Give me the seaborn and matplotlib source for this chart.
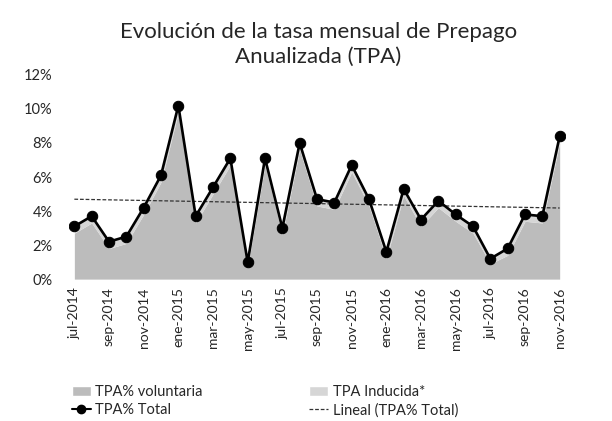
import matplotlib
matplotlib.use("Agg")
import matplotlib.pyplot as plt
import numpy as np
import pandas as pd
import seaborn as sns
from matplotlib.lines import Line2D
from matplotlib.patches import Patch

months = ["jul-2014", "ago-2014", "sep-2014", "oct-2014", "nov-2014", "dic-2014",
          "ene-2015", "feb-2015", "mar-2015", "abr-2015", "may-2015", "jun-2015",
          "jul-2015", "ago-2015", "sep-2015", "oct-2015", "nov-2015", "dic-2015",
          "ene-2016", "feb-2016", "mar-2016", "abr-2016", "may-2016", "jun-2016",
          "jul-2016", "ago-2016", "sep-2016", "oct-2016", "nov-2016"]
tpa_voluntaria = [2.7, 3.3, 1.8, 2.1, 3.8, 5.7, 9.8, 3.3, 5.0, 6.7, 0.7, 6.7, 2.6, 7.6, 4.3,
                  4.1, 6.3, 4.3, 1.2, 4.9, 3.1, 4.2, 3.4, 2.7, 0.9, 1.4, 3.4, 3.3, 8.0]
tpa_inducida = [0.4, 0.4, 0.4, 0.4, 0.4, 0.4, 0.4, 0.4, 0.4, 0.4, 0.3, 0.4, 0.4, 0.4, 0.4,
                0.4, 0.4, 0.4, 0.4, 0.4, 0.4, 0.4, 0.4, 0.4, 0.3, 0.4, 0.4, 0.4, 0.4]
tpa_total = [3.1, 3.7, 2.2, 2.5, 4.2, 6.1, 10.2, 3.7, 5.4, 7.1, 1.0, 7.1, 3.0, 8.0, 4.7,
             4.5, 6.7, 4.7, 1.6, 5.3, 3.5, 4.6, 3.8, 3.1, 1.2, 1.8, 3.8, 3.7, 8.4]
y_ticks = [0, 2, 4, 6, 8, 10, 12]

sns.set_style("white")
plt.rcParams["font.family"] = ["Lato", "DejaVu Sans"]

df = pd.DataFrame({"mes": months, "pos": range(len(months)), "total": tpa_total})

fig = plt.figure(figsize=(6.12, 4.21), dpi=100)
ax = fig.add_axes([0.113, 0.337, 0.81, 0.485])

ax.stackplot(df["pos"], tpa_voluntaria, tpa_inducida,
             colors=["#bcbcbc", "#d6d6d6"], linewidth=0)

# linear trend of the total series
coef = np.polyfit(df["pos"], df["total"], 1)
ax.plot(df["pos"], np.polyval(coef, df["pos"]), color="#333333",
        linestyle=(0, (3, 1.5)), linewidth=0.9)

sns.lineplot(data=df, x="pos", y="total", ax=ax, color="black", linewidth=1.9,
             marker="o", markersize=7.5, markeredgecolor="black")

ax.set_xlim(-0.3, len(months) - 0.7)
ax.set_ylim(0, 12)
ax.set_yticks(y_ticks)
ax.set_yticklabels([f"{t}%" for t in y_ticks], fontsize=10.5)
ax.set_xticks(df["pos"][::2])
ax.set_xticklabels(df["mes"][::2], rotation=90, fontsize=10)
ax.tick_params(axis="both", length=0, pad=6)
ax.tick_params(axis="y", pad=12)
ax.set_xlabel("")
ax.set_ylabel("")
for s in ax.spines.values():
    s.set_visible(False)

fig.text(0.52, 0.895, "Evolución de la tasa mensual de Prepago\nAnualizada (TPA)",
         ha="center", va="center", fontsize=16, linespacing=1.3)

handles = [Patch(facecolor="#bcbcbc", label="TPA% voluntaria"),
           Line2D([0], [0], color="black", marker="o", markersize=6, linewidth=1.5,
                  label="TPA% Total"),
           Patch(facecolor="#d6d6d6", label="TPA Inducida*"),
           Line2D([0], [0], color="#333333", linestyle=(0, (3, 1.5)), linewidth=0.9,
                  label="Lineal (TPA% Total)")]
fig.legend(handles=handles, ncol=2, loc="upper left", bbox_to_anchor=(0.108, 0.1),
           frameon=False, fontsize=10.5, columnspacing=7.3, handlelength=1.3,
           handletextpad=0.3, labelspacing=0.3, borderaxespad=0)

fig.savefig("out.png", dpi=100)
